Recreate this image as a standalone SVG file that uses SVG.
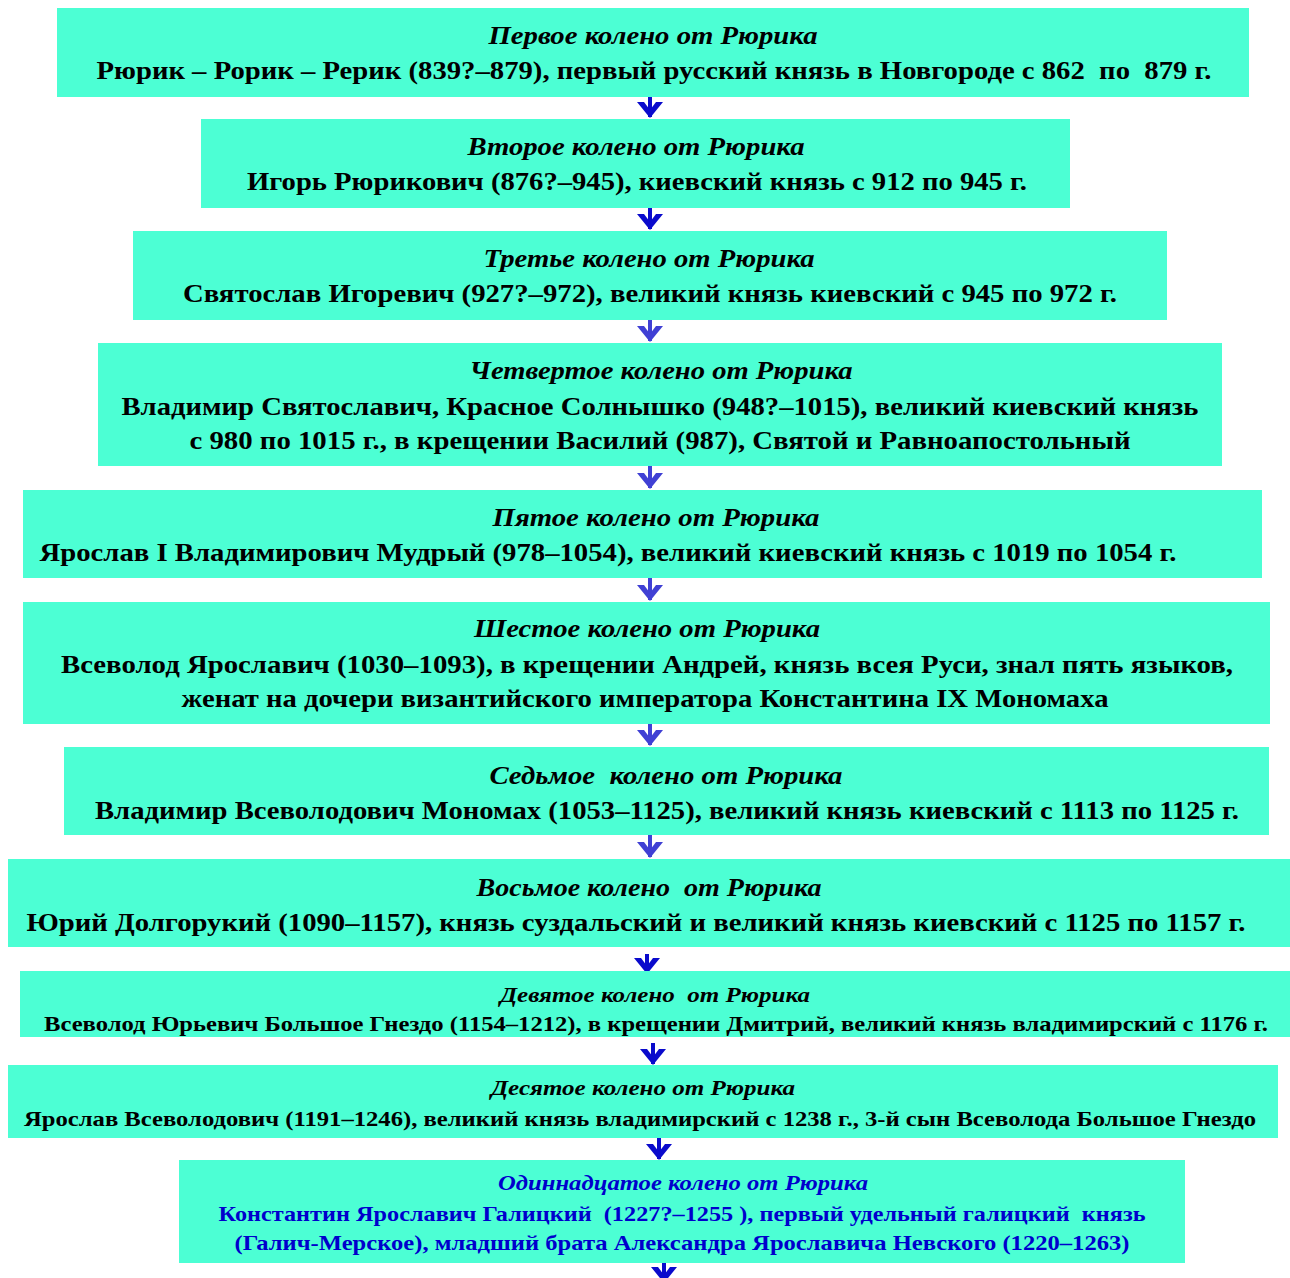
<svg xmlns="http://www.w3.org/2000/svg" width="1290" height="1278" viewBox="0 0 1290 1278">
<style>
.box{fill:#4cffd4}
text{font-family:'Times New Roman',Times,'Liberation Serif',Tinos,serif;font-weight:700;font-size:25px;fill:#000;text-anchor:middle;white-space:pre}
.t{font-style:italic}
.s{font-size:21px}
.b{fill:#0000cc}
.c1{stroke:#0a0acc;stroke-width:4;fill:none}
.c2{stroke:#4040d4;stroke-width:4;fill:none}
</style>
<defs>
<marker id="ah1" markerUnits="userSpaceOnUse" viewBox="0 0 16 26" markerWidth="16" markerHeight="26" refX="15" refY="13" orient="auto">
<path d="M0,0 L16,13 L0,26 L0,19 L8,13 L0,7 Z" fill="#0a0acc"/>
</marker>
<marker id="ah2" markerUnits="userSpaceOnUse" viewBox="0 0 16 26" markerWidth="16" markerHeight="26" refX="15" refY="13" orient="auto">
<path d="M0,0 L16,13 L0,26 L0,19 L8,13 L0,7 Z" fill="#4040d4"/>
</marker>
</defs>
<rect width="1290" height="1278" fill="#fff"/>
<g id="connectors">
<path class="c1" d="M650,96 V117" marker-end="url(#ah1)"/>
<path class="c1" d="M650,208 V229" marker-end="url(#ah1)"/>
<path class="c2" d="M650,320 V341" marker-end="url(#ah2)"/>
<path class="c2" d="M650,466 V488" marker-end="url(#ah2)"/>
<path class="c2" d="M650,578 V600" marker-end="url(#ah2)"/>
<path class="c2" d="M650,724 V745" marker-end="url(#ah2)"/>
<path class="c2" d="M650,835 V857" marker-end="url(#ah2)"/>
<path class="c1" d="M647,954 V973" marker-end="url(#ah1)"/>
<path class="c1" d="M653,1043 V1064" marker-end="url(#ah1)"/>
<path class="c1" d="M659,1138 V1159" marker-end="url(#ah1)"/>
<path class="c1" d="M664,1263 V1282" marker-end="url(#ah1)"/>
</g>
<g id="n1">
<rect class="box" x="57" y="8" width="1192" height="89"/>
<text class="t" x="653" y="44" textLength="329" lengthAdjust="spacingAndGlyphs">Первое колено от Рюрика</text>
<text class="l" x="654" y="79" textLength="1115" lengthAdjust="spacingAndGlyphs">Рюрик – Рорик – Рерик (839?–879), первый русский князь в Новгороде с 862  по  879 г.</text>
</g>
<g id="n2">
<rect class="box" x="201" y="119" width="869" height="89"/>
<text class="t" x="636" y="155" textLength="337" lengthAdjust="spacingAndGlyphs">Второе колено от Рюрика</text>
<text class="l" x="637" y="190" textLength="780" lengthAdjust="spacingAndGlyphs">Игорь Рюрикович (876?–945), киевский князь с 912 по 945 г.</text>
</g>
<g id="n3">
<rect class="box" x="133" y="231" width="1034" height="89"/>
<text class="t" x="649" y="267" textLength="331" lengthAdjust="spacingAndGlyphs">Третье колено от Рюрика</text>
<text class="l" x="650" y="302" textLength="934" lengthAdjust="spacingAndGlyphs">Святослав Игоревич (927?–972), великий князь киевский с 945 по 972 г.</text>
</g>
<g id="n4">
<rect class="box" x="98" y="343" width="1124" height="123"/>
<text class="t" x="661" y="379" textLength="383" lengthAdjust="spacingAndGlyphs">Четвертое колено от Рюрика</text>
<text class="l" x="660" y="415" textLength="1077" lengthAdjust="spacingAndGlyphs">Владимир Святославич, Красное Солнышко (948?–1015), великий киевский князь</text>
<text class="l" x="660" y="449" textLength="941" lengthAdjust="spacingAndGlyphs">с 980 по 1015 г., в крещении Василий (987), Святой и Равноапостольный</text>
</g>
<g id="n5">
<rect class="box" x="23" y="490" width="1239" height="88"/>
<text class="t" x="656" y="526" textLength="327" lengthAdjust="spacingAndGlyphs">Пятое колено от Рюрика</text>
<text class="l" x="608" y="561" textLength="1137" lengthAdjust="spacingAndGlyphs">Ярослав I Владимирович Мудрый (978–1054), великий киевский князь с 1019 по 1054 г.</text>
</g>
<g id="n6">
<rect class="box" x="23" y="602" width="1247" height="122"/>
<text class="t" x="647" y="637" textLength="346" lengthAdjust="spacingAndGlyphs">Шестое колено от Рюрика</text>
<text class="l" x="647" y="673" textLength="1172" lengthAdjust="spacingAndGlyphs">Всеволод Ярославич (1030–1093), в крещении Андрей, князь всея Руси, знал пять языков,</text>
<text class="l" x="645" y="707" textLength="927" lengthAdjust="spacingAndGlyphs">женат на дочери византийского императора Константина IX Мономаха</text>
</g>
<g id="n7">
<rect class="box" x="64" y="747" width="1205" height="88"/>
<text class="t" x="666" y="784" textLength="353" lengthAdjust="spacingAndGlyphs">Седьмое  колено от Рюрика</text>
<text class="l" x="667" y="819" textLength="1144" lengthAdjust="spacingAndGlyphs">Владимир Всеволодович Мономах (1053–1125), великий князь киевский с 1113 по 1125 г.</text>
</g>
<g id="n8">
<rect class="box" x="8" y="859" width="1282" height="88"/>
<text class="t" x="649" y="896" textLength="345" lengthAdjust="spacingAndGlyphs">Восьмое колено  от Рюрика</text>
<text class="l" x="636" y="931" textLength="1219" lengthAdjust="spacingAndGlyphs">Юрий Долгорукий (1090–1157), князь суздальский и великий князь киевский с 1125 по 1157 г.</text>
</g>
<g id="n9">
<rect class="box" x="20" y="971" width="1270" height="66"/>
<text class="t s" x="655" y="1002" textLength="310" lengthAdjust="spacingAndGlyphs">Девятое колено  от Рюрика</text>
<text class="l s" x="656" y="1031" textLength="1224" lengthAdjust="spacingAndGlyphs">Всеволод Юрьевич Большое Гнездо (1154–1212), в крещении Дмитрий, великий князь владимирский с 1176 г.</text>
</g>
<g id="n10">
<rect class="box" x="8" y="1065" width="1270" height="73"/>
<text class="t s" x="643" y="1095" textLength="304" lengthAdjust="spacingAndGlyphs">Десятое колено от Рюрика</text>
<text class="l s" x="640" y="1126" textLength="1232" lengthAdjust="spacingAndGlyphs">Ярослав Всеволодович (1191–1246), великий князь владимирский с 1238 г., 3-й сын Всеволода Большое Гнездо</text>
</g>
<g id="n11">
<rect class="box" x="179" y="1160" width="1006" height="103"/>
<text class="t s b" x="683" y="1190" textLength="370" lengthAdjust="spacingAndGlyphs">Одиннадцатое колено от Рюрика</text>
<text class="l s b" x="682" y="1221" textLength="927" lengthAdjust="spacingAndGlyphs">Константин Ярославич Галицкий  (1227?–1255 ), первый удельный галицкий  князь</text>
<text class="l s b" x="682" y="1250" textLength="895" lengthAdjust="spacingAndGlyphs">(Галич-Мерское), младший брата Александра Ярославича Невского (1220–1263)</text>
</g>
</svg>
